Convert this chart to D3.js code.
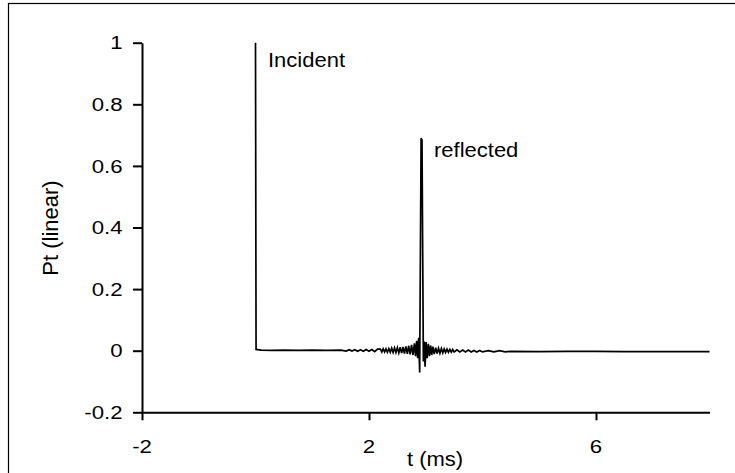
<!DOCTYPE html>
<html>
<head>
<meta charset="utf-8">
<script src="https://cdn.jsdelivr.net/npm/d3@7"></script>
<style>
  html, body { margin: 0; padding: 0; background: #fff; }
  svg { display: block; }
  text { font-family: "Liberation Sans", Arial, sans-serif; fill: #000; }
</style>
</head>
<body>
<svg id="chart" width="735" height="473"></svg>
<script>
// ---- data ----
const timeMs = [
  0, 0.01, 0.1, 0.3, 0.5, 0.75, 1.0, 1.25, 1.5,
  1.6, 1.65, 1.7, 1.75, 1.8, 1.85, 1.9, 1.95, 2.0, 2.05, 2.1, 2.15,
  2.2, 2.225, 2.25, 2.275, 2.3, 2.325, 2.35, 2.375, 2.4, 2.425, 2.45, 2.475,
  2.5, 2.525, 2.55, 2.575, 2.6, 2.625, 2.65, 2.675, 2.7, 2.725, 2.75, 2.775,
  2.8, 2.82, 2.84, 2.858, 2.875, 2.893, 2.918, 2.934, 2.958, 2.972, 2.988,
  3.005, 3.025, 3.045, 3.065, 3.085, 3.105, 3.125, 3.15, 3.175, 3.2,
  3.225, 3.25, 3.275, 3.3, 3.325, 3.35, 3.375, 3.4, 3.425, 3.45, 3.475, 3.5,
  3.55, 3.6, 3.65, 3.7, 3.75, 3.8, 3.85, 3.9, 3.95, 4.0, 4.1, 4.2, 4.3, 4.4,
  4.5, 5.0, 5.5, 6.0, 6.5, 7.0, 7.5, 8.0
];
const ptLinear = [
  1.0, 0.004, 0.002, 0.001, 0.002, 0.001, 0.002, 0.001, 0.002,
  -0.001, 0.003, -0.001, 0.003, -0.002, 0.003, -0.002, 0.004, -0.002, 0.004, -0.003, 0.005,
  0.005, -0.004, 0.006, -0.004, 0.006, -0.005, 0.007, -0.005, 0.008, -0.006, 0.009, -0.006,
  0.010, -0.007, 0.011, -0.008, 0.012, -0.009, 0.014, -0.010, 0.016, -0.012, 0.019, -0.014,
  0.024, -0.018, 0.032, -0.024, 0.042, -0.071, 0.690, 0.684, -0.035, 0.030, -0.052,
  0.028, -0.024, 0.022, -0.018, 0.017, -0.014, 0.013, -0.011, 0.010, -0.009,
  0.008, -0.008, 0.007, -0.007, 0.006, -0.006, 0.005, -0.005, 0.004, -0.005, 0.004, -0.004,
  0.003, -0.004, 0.002, -0.004, 0.002, -0.004, 0.001, -0.004, 0.001, -0.004, 0.000, -0.004, 0.000, -0.004,
  -0.002, -0.003, -0.002, -0.002, -0.003, -0.003, -0.003, -0.003
];
const xTicks = [-2, 2, 6];
const xTickLabels = ["-2", "2", "6"];
const yTicks = [-0.2, 0, 0.2, 0.4, 0.6, 0.8, 1];
const yTickLabels = ["-0.2", "0", "0.2", "0.4", "0.6", "0.8", "1"];
const xDomain = [-2, 8];
const yDomain = [-0.2, 1];
const annotationLabels = ["Incident", "reflected"];
const annotationTimes = [0, 2.925];
const xTitle = "t (ms)";
const yTitle = "Pt (linear)";

// ---- layout ----
const svg = d3.select("#chart");
const plot = { left: 142, right: 709.5, top: 42.7, bottom: 412.3 };
const FONT = '"Liberation Sans", Arial, sans-serif';

// outer frame (extends past the right/bottom edge as in the reference)
svg.append("rect")
  .attr("x", 8.5).attr("y", 3.5)
  .attr("width", 800).attr("height", 600)
  .attr("fill", "none").attr("stroke", "#000").attr("stroke-width", 1.2);

const x = d3.scaleLinear().domain(xDomain).range([plot.left, plot.right]);
const y = d3.scaleLinear().domain(yDomain).range([plot.bottom, plot.top]);

// axes (lines & tick marks via d3.axis; labels placed from the same scales)
const yAxis = d3.axisLeft(y).tickValues(yTicks).tickFormat("")
  .tickSizeInner(9).tickSizeOuter(0);
const gy = svg.append("g").attr("transform", `translate(${plot.left},0)`).call(yAxis);
const xAxis = d3.axisBottom(x).tickValues(xTicks).tickFormat("")
  .tickSizeInner(8).tickSizeOuter(0);
const gx = svg.append("g").attr("transform", `translate(0,${plot.bottom})`).call(xAxis);
[gx, gy].forEach(g => {
  g.select(".domain").attr("stroke", "#000").attr("stroke-width", 2);
  g.selectAll(".tick line").attr("stroke", "#000").attr("stroke-width", 2);
});

// tick labels (slightly wide text, as in the reference)
const tickFs = 18.5, tickSx = 1.2;
svg.append("g").selectAll("text").data(yTicks).join("text")
  .attr("transform", d => `translate(${plot.left - 19.5},${y(d) + 0.358 * tickFs}) scale(${tickSx},1)`)
  .attr("text-anchor", "end")
  .attr("font-size", tickFs)
  .style("font-family", FONT)
  .text((d, i) => yTickLabels[i]);
svg.append("g").selectAll("text").data(xTicks).join("text")
  .attr("transform", d => `translate(${x(d)},${plot.bottom + 40.5}) scale(${tickSx},1)`)
  .attr("text-anchor", "middle")
  .attr("font-size", tickFs)
  .style("font-family", FONT)
  .text((d, i) => xTickLabels[i]);

// data line
const pts = timeMs.map((t, i) => [t, ptLinear[i]]);
const line = d3.line().x(d => x(d[0])).y(d => y(d[1]));
svg.append("path")
  .datum(pts)
  .attr("d", line)
  .attr("fill", "none")
  .attr("stroke", "#000")
  .attr("stroke-width", 1.7)
  .attr("stroke-linejoin", "miter");

// annotations
const annFs = 20, annSx = 1.1;
const annY = [67.3, 157.3];
annotationLabels.forEach((lab, i) => {
  svg.append("text")
    .attr("transform", `translate(${x(annotationTimes[i]) + 12.5},${annY[i]}) scale(${annSx},1)`)
    .attr("font-size", annFs)
    .style("font-family", FONT)
    .text(lab);
});

// axis titles
svg.append("text")
  .attr("transform", "translate(58,228) rotate(-90)")
  .attr("text-anchor", "middle")
  .attr("font-size", 22)
  .style("font-family", FONT)
  .text(yTitle);
svg.append("text")
  .attr("transform", "translate(435,465.5) scale(1.1,1)")
  .attr("text-anchor", "middle")
  .attr("font-size", 20)
  .style("font-family", FONT)
  .text(xTitle);
</script>
</body>
</html>
